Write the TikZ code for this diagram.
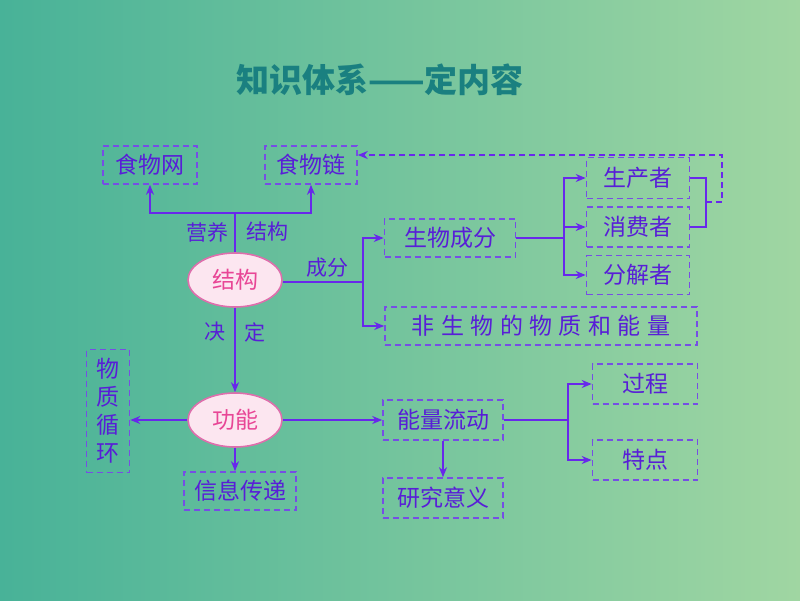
\documentclass[tikz,border=0pt]{standalone}
\usepackage{fontspec}
\setmainfont{Noto Sans CJK SC}
\usetikzlibrary{positioning,arrows.meta,shapes.geometric}
\definecolor{lineviolet}{RGB}{104,40,235}
\definecolor{textviolet}{RGB}{88,30,215}
\definecolor{boxviolet}{RGB}{118,78,228}
\definecolor{titleteal}{RGB}{26,128,128}
\definecolor{ovalpink}{RGB}{222,110,172}
\definecolor{ovalfill}{RGB}{252,230,240}
\definecolor{ovaltext}{RGB}{232,70,150}
\definecolor{bgleft}{RGB}{72,178,152}
\definecolor{bgright}{RGB}{160,214,162}
\tikzset{dbox/.style={draw=boxviolet,line width=1.6pt,dash pattern=on 6pt off 4pt,text=textviolet,font=\fontsize{23}{28}\selectfont,inner sep=0pt,minimum height=38pt},oval/.style={ellipse,draw=ovalpink,fill=ovalfill,line width=1.6pt,text=ovaltext,minimum width=94pt,minimum height=54pt,inner sep=0pt,font=\fontsize{23}{25}\selectfont},lab/.style={text=textviolet,font=\fontsize{21}{23}\selectfont}}

\begin{document}
\begin{tikzpicture}[x=1pt,y=-1pt,link/.style={draw=lineviolet,line width=1.8pt},arr/.style={link,-{Stealth[length=10pt,width=8pt]}}]
		\shade[left color=bgleft,right color=bgright] (0,0) rectangle (800,600);
		\node[font=\bfseries\fontsize{33}{35}\selectfont,text=titleteal] (title) at (380,80) {知识体系——定内容};

		\node[dbox,minimum width=94pt] (web) at (150,165) {食物网};
		\node[dbox,minimum width=92pt] (chain) at (311,165) {食物链};
		\node[oval] (struct) at (235,280) {结构};
		\node[oval] (func) at (235,420) {功能};

		\node[dbox,minimum width=131pt] (biotic) at (450,238) {生物成分};
		\node[dbox,minimum width=312pt,font=\fontsize{23}{28}\selectfont\addfontfeature{LetterSpace=28}] (abiotic) at (541,326) {非生物的物质和能量};
		\node[dbox,minimum width=103pt,minimum height=41pt] (producer) at (638,178) {生产者};
		\node[dbox,minimum width=103pt,minimum height=40pt] (consumer) at (638,227) {消费者};
		\node[dbox,minimum width=103pt,minimum height=39pt] (decomposer) at (638,275) {分解者};

		\node[dbox,minimum width=43pt,minimum height=123pt,align=center] (cycle) at (108,411) {物\\质\\循\\环};
		\node[dbox,minimum width=112pt] (info) at (240,491) {信息传递};
		\node[dbox,minimum width=120pt,minimum height=40pt] (energy) at (443,420) {能量流动};
		\node[dbox,minimum width=120pt,minimum height=40pt] (meaning) at (443,498) {研究意义};
		\node[dbox,minimum width=105pt,minimum height=40pt] (process) at (645,384) {过程};
		\node[dbox,minimum width=105pt,minimum height=40pt] (feature) at (645,460) {特点};

		\node[lab] (nutri) at (207,232) {营养};
		\node[lab] (nstruct) at (267,232) {结构};
		\node[lab] (comp) at (327,268) {成分};
		\node[lab] (jue) at (215,332) {决};
		\node[lab] (ding) at (255,332) {定};

		% upper half
		\coordinate (top) at (235,213);
		\coordinate (splitA) at (363,282);
		\coordinate (splitB) at (564,238);
		\coordinate (joinP) at (706,202);
		\coordinate (loop) at (722,155);
		\draw[link] (struct.north) -- (top);
		\draw[arr] (top) -| (web.south);
		\draw[arr] (top) -| (chain.south);
		\draw[link] (struct.east |- splitA) -- (splitA);
		\draw[arr] (splitA) |- (biotic.west);
		\draw[arr] (splitA) |- (abiotic.west);
		\draw[link] (biotic.east) -- (splitB);
		\draw[arr] (splitB) |- (producer.west);
		\draw[arr] (splitB) |- (consumer.west);
		\draw[arr] (splitB) |- (decomposer.west);
		\draw[link] (producer.east) -| (joinP) |- (consumer.east);
		\draw[arr,line width=1.6pt,dash pattern=on 6pt off 4pt] (joinP) -| (loop) -- (chain.east |- loop);

		% lower half
		\coordinate (splitC) at (568,420);
		\draw[arr] (struct.south) -- (func.north);
		\draw[arr] (func.west) -- (func.west -| cycle.east);
		\draw[arr] (func.south) -- (func.south |- info.north);
		\draw[arr] (func.east) -- (energy.west);
		\draw[arr] (energy.south) -- (meaning.north);
		\draw[link] (energy.east) -- (splitC);
		\draw[arr] (splitC) |- (process.west);
		\draw[arr] (splitC) |- (feature.west);
	\end{tikzpicture}
\end{document}
